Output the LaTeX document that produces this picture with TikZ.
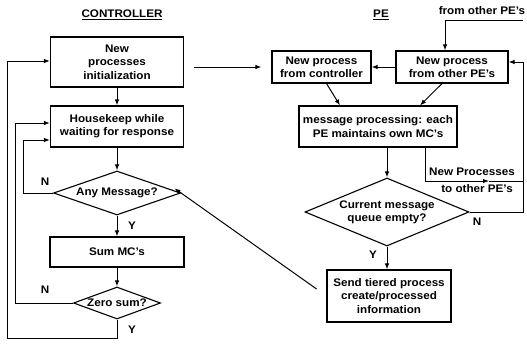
\documentclass[tikz,border=0pt]{standalone}
\usepackage{fontspec}
\setmainfont[FakeStretch=1.06]{Liberation Sans}
\usetikzlibrary{shapes.geometric,arrows.meta,calc}
\begin{document}
\begin{tikzpicture}[x=1pt,y=-1pt,
  every node/.style={font=\fontsize{11}{13.3}\selectfont\bfseries},
  box/.style={draw,line width=1.1pt,align=center,inner sep=1pt},
  dia/.style={draw,line width=1.1pt,shape=diamond,align=center,inner sep=0pt},
  lbl/.style={inner sep=0pt},
  conn/.style={line width=1pt,-{Latex[length=6pt,width=4.5pt]}},
  plain/.style={line width=1pt}]
\useasboundingbox (0,0) rectangle (527,343);
% titles
\node[lbl] (ctitle) at (122,15) {\underline{CONTROLLER}};
\node[lbl] (petitle) at (381,15) {\underline{PE}};
\node[lbl] (fromtxt) at (482,11) {from other PE's};
% controller
\node[box,minimum width=133pt,minimum height=50pt] (b1) at (117,62) {New\\processes\\initialization};
\node[box,minimum width=133pt,minimum height=41pt] (b2) at (117,126.5) {Housekeep while\\waiting for response};
\node[dia,minimum width=127pt,minimum height=44pt,aspect=2.9] (d1) at (117,193) {Any Message?};
\node[box,minimum width=134pt,minimum height=30pt] (b3) at (117,252) {Sum MC's};
\node[dia,minimum width=87pt,minimum height=32pt,aspect=2.7] (d2) at (117,303) {Zero sum?};
\node[lbl] (n1) at (45,182) {N};
\node[lbl] (y1) at (132,226) {Y};
\node[lbl] (n2) at (45,290) {N};
\node[lbl] (y2) at (132,330) {Y};
\draw[conn] (b1) -- (b2);
\draw[conn] (b2) -- (d1);
\draw[conn] (d1) -- (b3);
\draw[conn] (b3) -- (d2);
\draw[conn] (d1.west) -- (23,193) -- (23,140) -- (b2.west |- 0,140);
\draw[conn] (d2.west) -- (15,303) -- (15,123) -- (b2.west |- 0,123);
\draw[conn] (d2.south) -- (117,338) -- (7,338) -- (7,61) -- (b1.west |- 0,61);
% PE
\node[box,minimum width=99pt,minimum height=32pt] (pc) at (321.5,67) {New process\\from controller};
\node[box,minimum width=112pt,minimum height=32pt] (po) at (452,67) {New process\\from other PE's};
\node[box,minimum width=158pt,minimum height=41pt] (pm) at (378,126.5) {message processing: each\\PE maintains own MC's};
\node[dia,minimum width=164pt,minimum height=68pt,aspect=2.4] (pd) at (387,212) {Current message\\queue empty?};
\node[box,minimum width=124pt,minimum height=52pt] (ps) at (389,296) {Send tiered process\\create/processed\\information};
\node[lbl] (n3) at (477,222) {N};
\node[lbl] (y3) at (373,255) {Y};
\node[lbl] (np1) at (472,172) {New Processes};
\node[lbl] (np2) at (477,189) {to other PE's};
\coordinate (fe) at (523,20);
\coordinate (rt) at (523,181);
\coordinate (mid) at (489,181);
\draw[conn,shorten <=10pt,shorten >=10pt] (b1.east |- pc.west) -- (pc.west);
\draw[conn] (po.west) -- (pc.east);
\draw[conn] (fe) -| ([xshift=-7pt]po.north);
\draw[conn] ([xshift=5pt]pc.south) -- ([xshift=-38pt]pm.north);
\draw[conn] ([xshift=-10pt]po.south) -- ([xshift=42pt]pm.north);
\draw[conn] (pm.south -| pd.north) -- (pd.north);
\draw[conn] (pd.south) -- (pd.south |- ps.north);
\draw[conn] (pd.east) -- (523,212) -- (523,62) -- (po.east |- 0,62);
\draw[conn] ([xshift=47pt]pm.south) |- (mid);
\draw[plain] (mid) -- (rt);
\draw[conn,shorten <=12pt,shorten >=-8pt] (ps.west) -- (d1.east);
\end{tikzpicture}
\end{document}
